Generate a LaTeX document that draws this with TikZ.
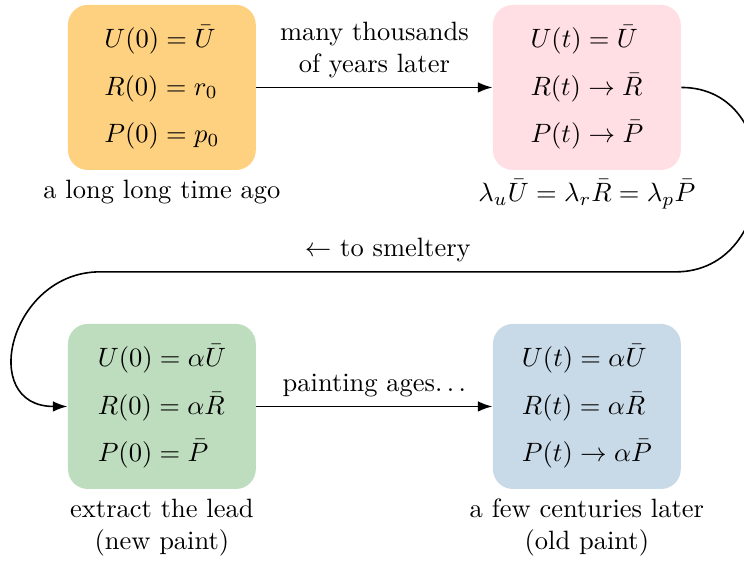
\documentclass[tikz,border=0pt]{standalone}
\usepackage{amsmath}
\usepackage{amssymb}
\usepackage{xcolor}
\usepackage{tikz}
\usetikzlibrary{arrows.meta,positioning}
\definecolor{lpamber}{RGB}{254,209,128}
\definecolor{lppink}{RGB}{255,222,228}
\definecolor{lpgreen}{RGB}{190,221,190}
\definecolor{lpblue}{RGB}{200,218,232}
\tikzset{
  lpbox/.style={
    rounded corners=7.5pt,
    align=left,
    minimum width=70.9pt,
    minimum height=62.3pt,
    inner sep=0pt
  },
  lpancient/.style={lpbox, fill=lpamber},
  lpsteady/.style={lpbox, fill=lppink},
  lpfresh/.style={lpbox, fill=lpgreen},
  lpaged/.style={lpbox, fill=lpblue},
  lpcaption/.style={align=center},
  lparrow/.style={-{Latex[length=5.5pt,width=4pt]}, semithick}
}
\begin{document}
\begin{tikzpicture}[node distance=57.7pt and 89.1pt]
\useasboundingbox (0,0) rectangle (280.8pt,-212.5pt);
\node[lpancient, label={[lpcaption]below:a long long time ago}] (start) at (61.1pt,-33pt)
  {$U(0)=\bar U$\\[5.9pt]$R(0)=r_0$\\[5.9pt]$P(0)=p_0$};
\node[lpsteady, right=of start, label={[lpcaption]below:$\lambda_u\bar U=\lambda_r\bar R=\lambda_p\bar P$}] (equil)
  {$U(t)=\bar U$\\[5.9pt]$R(t)\to\bar R$\\[5.9pt]$P(t)\to\bar P$};
\node[lpfresh, below=of start, label={[lpcaption]below:{extract the lead\\(new paint)}}] (extract)
  {$U(0)=\alpha\bar U$\\[5.9pt]$R(0)=\alpha\bar R$\\[5.9pt]$P(0)=\bar P$};
\node[lpaged, right=of extract, label={[lpcaption]below:{a few centuries later\\(old paint)}}] (later)
  {$U(t)=\alpha\bar U$\\[5.9pt]$R(t)=\alpha\bar R$\\[5.9pt]$P(t)\to\alpha\bar P$};
\coordinate (turnright) at (255pt,-102.6pt);
\coordinate (turnleft) at (37.7pt,-102.6pt);
\draw[lparrow] (start) -- node[above, lpcaption] {many thousands\\of years later} (equil);
\draw[lparrow] (extract) -- node[above] {painting ages$\ldots$} (later);
\draw[lparrow] (equil.east) .. controls +(40pt,0) and +(40pt,0) .. (turnright)
  -- node[above] {$\leftarrow$ to smeltery} (turnleft)
  .. controls +(-34pt,0) and +(-34pt,0) .. (extract.west);
\end{tikzpicture}
\end{document}
